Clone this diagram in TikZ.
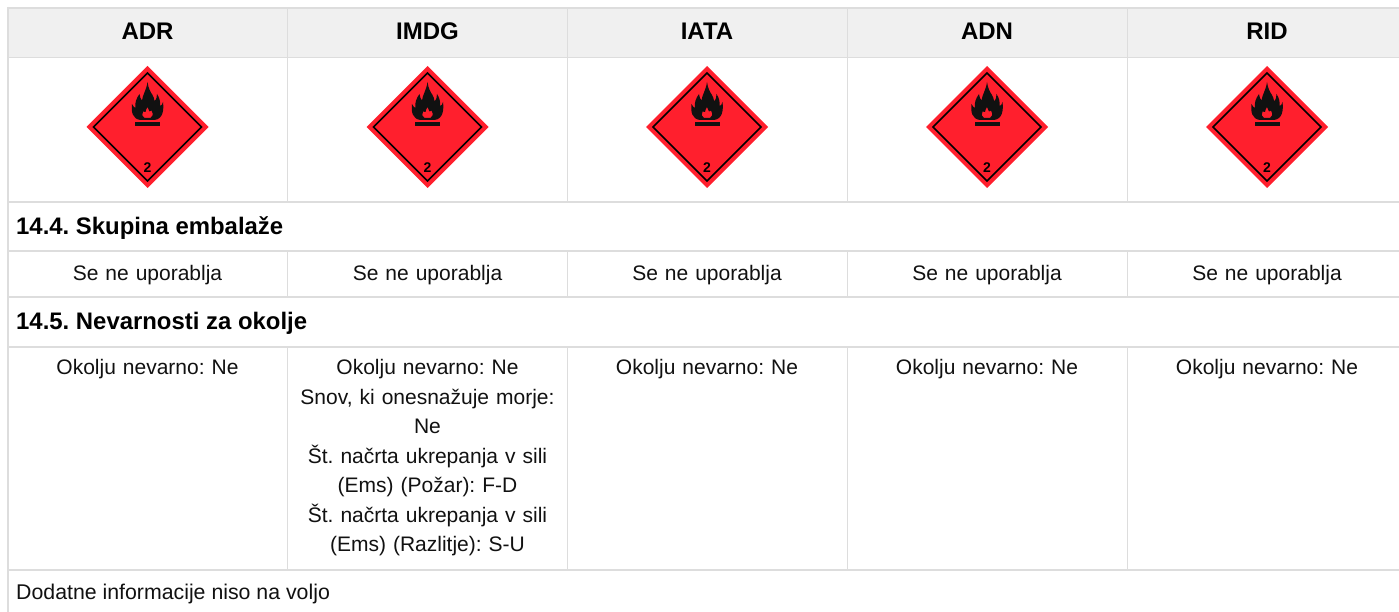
\documentclass[tikz,border=0pt]{standalone}
\usepackage{fontspec}
\setmainfont{Liberation Sans}
\frenchspacing
\definecolor{gridc}{HTML}{DDDDDD}
\definecolor{headc}{HTML}{F0F0F0}
\definecolor{hazred}{HTML}{FF1F2D}
\definecolor{inkc}{HTML}{111111}
\tikzset{
  grid line/.style={draw=gridc,line width=1.5pt},
  grid vline/.style={draw=gridc,line width=1.6pt},
  grid edge/.style={draw=gridc,line width=2pt},
  head/.style={font=\fontsize{24}{28}\selectfont\bfseries,anchor=center,inner sep=0pt},
  sect/.style={font=\fontsize{23.9}{28}\selectfont\bfseries,anchor=west,inner sep=0pt},
  cell/.style={font=\fontsize{21}{29.5}\selectfont,color=inkc,align=center,anchor=north,inner sep=0pt,text width=272pt},
  plain/.style={font=\fontsize{21.3}{26}\selectfont,color=inkc,anchor=west,inner sep=0pt},
}
\newcommand{\hazard}[2]{%
  \begin{scope}[shift={(#1,127)}]
    \node[inner sep=0pt] (#2) at (0,0) {};
    \fill[hazred] (0,-61)--(61,0)--(0,61)--(-61,0)--cycle;
    \draw[black,line width=1.5pt,line join=miter] (0,-54)--(54,0)--(0,54)--(-54,0)--cycle;
    \fill[inkc,even odd rule] (0,-45)
      .. controls (1,-38) and (3,-35) .. (5,-32)
      .. controls (6,-30) and (7,-28) .. (7,-26)
      .. controls (9,-27) and (9.5,-31) .. (9.5,-33)
      .. controls (12,-29) and (13,-26) .. (12.5,-21)
      .. controls (14,-21) and (15,-23) .. (15.5,-25)
      .. controls (16.5,-17) and (15.5,-8) .. (7,-7)
      -- (-7,-7)
      .. controls (-15,-8) and (-16.5,-15) .. (-15.5,-23)
      .. controls (-14.5,-21) and (-13,-19) .. (-12,-19)
      .. controls (-13,-24) and (-11,-29) .. (-8,-33)
      .. controls (-7.5,-30) and (-7,-28) .. (-5.5,-26.5)
      .. controls (-5,-32) and (-1,-37) .. (0,-45) -- cycle
      (0,-20) .. controls (0.5,-18) and (1.5,-17) .. (2,-15.5)
      .. controls (3,-16) and (3.5,-16.5) .. (4,-16.5)
      .. controls (6,-13) and (5.5,-10) .. (3,-9)
      -- (-3,-9)
      .. controls (-5.5,-10) and (-6,-13) .. (-4.5,-15.5)
      .. controls (-3.5,-15) and (-2.5,-15) .. (-2,-15)
      .. controls (-2,-17) and (-1,-18) .. (0,-20) -- cycle;
    \fill[inkc] (-12.5,-5.3) rectangle (12.5,-1.3);
    \node[font=\fontsize{14}{14}\selectfont\bfseries,inner sep=0pt,text=black] at (0,40.5) {2};
  \end{scope}}
\begin{document}
\begin{tikzpicture}[x=1pt,y=-1pt]
  \useasboundingbox (0,0) rectangle (1399,612);
  \fill[white] (0,0) rectangle (1399,612);
  \fill[headc] (7.5,8) rectangle (1399,57.5);
  \foreach \yy in {57.5,202,251,297,347,570}
    \draw[grid line] (7,\yy)--(1399,\yy);
  \draw[grid edge] (7,8)--(1399,8);
  \draw[grid edge] (7.5,7)--(7.5,612);
  \foreach \xx in {287.5,567.5,847.5,1127.5}{
    \draw[grid vline] (\xx,8)--(\xx,202);
    \draw[grid vline] (\xx,251)--(\xx,297);
    \draw[grid vline] (\xx,347)--(\xx,570);
  }
  \node[head] (h1) at (147.5,31) {ADR};
  \node[head] (h2) at (427.5,31) {IMDG};
  \node[head] (h3) at (707,31) {IATA};
  \node[head] (h4) at (987,31) {ADN};
  \node[head] (h5) at (1267,31) {RID};
  \hazard{147.5}{d1}
  \hazard{427.5}{d2}
  \hazard{707}{d3}
  \hazard{987}{d4}
  \hazard{1267}{d5}
  \node[sect] (s1) at (16,228) {14.4. Skupina embalaže};
  \node[sect] (s2) at (16,323.5) {14.5. Nevarnosti za okolje};
  \node[cell] (a1) at (147.5,265) {Se ne uporablja};
  \node[cell] (a2) at (427.5,265) {Se ne uporablja};
  \node[cell] (a3) at (707,265) {Se ne uporablja};
  \node[cell] (a4) at (987,265) {Se ne uporablja};
  \node[cell] (a5) at (1267,265) {Se ne uporablja};
  \node[cell] (b1) at (147.5,359.5) {Okolju nevarno: Ne};
  \node[cell] (b2) at (427.5,359.5) {Okolju nevarno: Ne\\Snov, ki onesnažuje morje:\\Ne\\Št. načrta ukrepanja v sili\\(Ems) (Požar): F-D\\Št. načrta ukrepanja v sili\\(Ems) (Razlitje): S-U};
  \node[cell] (b3) at (707,359.5) {Okolju nevarno: Ne};
  \node[cell] (b4) at (987,359.5) {Okolju nevarno: Ne};
  \node[cell] (b5) at (1267,359.5) {Okolju nevarno: Ne};
  \node[plain] (f) at (16,593.5) {Dodatne informacije niso na voljo};
\end{tikzpicture}
\end{document}
